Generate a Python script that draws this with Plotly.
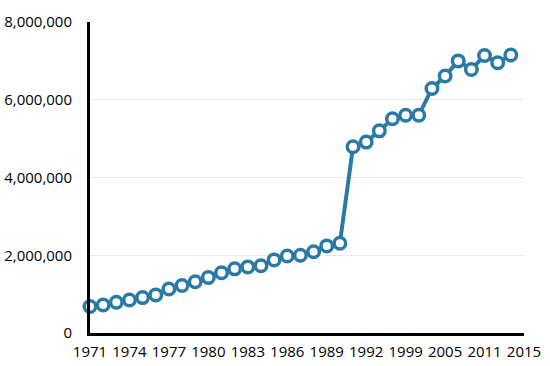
import plotly.graph_objects as go

years = [str(y) for y in range(1971, 1992)] + ["1992", "1995", "1997", "1999", "2001", "2003", "2005",
                                              "2007", "2009", "2011", "2012", "2013"]
values = [680000, 720000, 790000, 850000, 910000, 980000, 1130000, 1220000, 1320000, 1430000,
          1550000, 1650000, 1700000, 1730000, 1880000, 1980000, 2000000, 2090000, 2240000, 2310000,
          4790000, 4910000, 5200000, 5510000, 5600000, 5600000, 6290000, 6610000, 7000000, 6780000,
          7140000, 6950000, 7150000]
categories = years + ["2015"]
tick_labels = ["1971", "1974", "1977", "1980", "1983", "1986", "1989", "1992", "1999", "2005", "2011", "2015"]
tick_positions = [0, 3, 6, 9, 12, 15, 18, 21, 24, 27, 30, 33]

color = "#2b7aa6"
fig = go.Figure()
fig.add_trace(go.Scatter(
    x=years, y=values, mode="lines+markers",
    line=dict(color=color, width=4),
    marker=dict(size=11.5, color="white", line=dict(color=color, width=3.5)),
    cliponaxis=False, hoverinfo="x+y",
))
fig.update_layout(
    width=550, height=366,
    margin=dict(l=90, r=26, t=22, b=33),
    paper_bgcolor="white", plot_bgcolor="white",
    showlegend=False,
    font=dict(family="Open Sans", size=15, color="#000000"),
    xaxis=dict(type="category", categoryorder="array", categoryarray=categories,
               range=[0, 33], tickmode="array", automargin=False,
               tickvals=[categories[i] for i in tick_positions], ticktext=tick_labels,
               showgrid=False, showline=True, linecolor="black", linewidth=3,
               ticks="outside", ticklen=3, tickcolor="rgba(0,0,0,0)", zeroline=False),
    yaxis=dict(range=[0, 8000000], dtick=2000000, tickformat=",", automargin=False,
               showgrid=True, gridcolor="#e8e8e8", gridwidth=1,
               showline=True, linecolor="black", linewidth=3,
               ticks="outside", ticklen=12, tickcolor="rgba(0,0,0,0)", zeroline=False),
)
fig.write_html("out.html", config={"displayModeBar": False},
               post_script="document.body.style.margin='0px';")
